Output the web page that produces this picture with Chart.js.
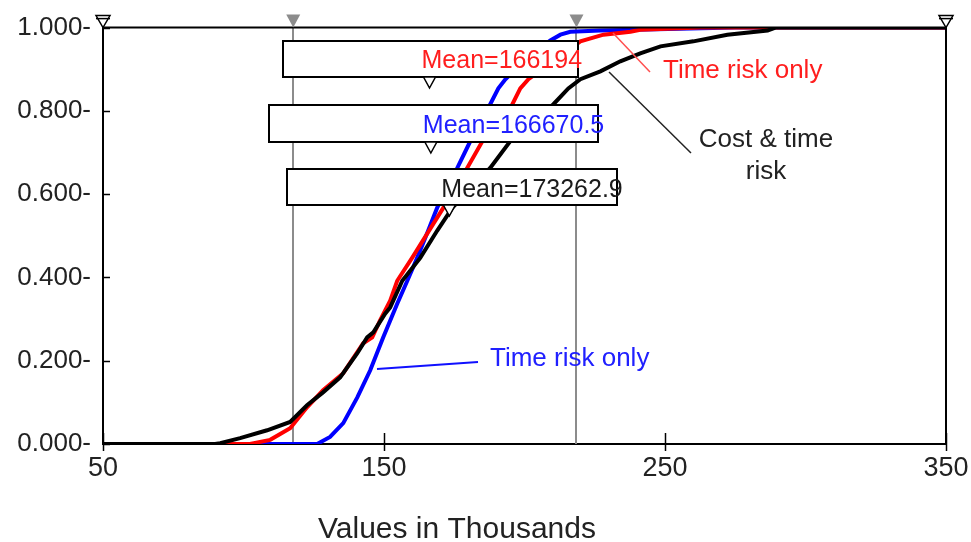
<!DOCTYPE html>
<html>
<head>
<meta charset="utf-8">
<script src="https://cdn.jsdelivr.net/npm/chart.js@4.4.1/dist/chart.umd.min.js"></script>
<style>
  html, body { margin: 0; padding: 0; background: #fff; }
  #wrap { width: 971px; height: 542px; }
</style>
</head>
<body>
<div id="wrap"><canvas id="cdfChart" width="971" height="542"></canvas></div>
<script>
"use strict";

// x in thousands, y = cumulative probability
const xTicks = [50, 150, 250, 350];
const yTicks = [0, 0.2, 0.4, 0.6, 0.8, 1.0];

const blueX = [50, 126.2, 130.8, 135.5, 140.5, 145.1, 149.7, 154.7, 158.3, 161.8, 165.7, 168.9, 176.1, 180.7, 187.8, 190.7, 193.2, 199.6, 209.2, 212.8, 216.3, 227.0, 275.1, 350];
const blueY = [0, 0, 0.017, 0.050, 0.112, 0.177, 0.256, 0.337, 0.392, 0.447, 0.512, 0.567, 0.663, 0.727, 0.816, 0.854, 0.876, 0.919, 0.969, 0.983, 0.990, 0.993, 1, 1];

const redX = [50, 102.3, 109.5, 116.6, 122.6, 128.3, 135.5, 142.6, 145.8, 148.6, 152.2, 154.7, 160.0, 171.1, 179.6, 185.0, 195.7, 198.5, 201.4, 219.9, 228.1, 237.7, 241.2, 262.6, 350];
const redY = [0, 0, 0.010, 0.038, 0.088, 0.129, 0.170, 0.242, 0.256, 0.297, 0.344, 0.392, 0.447, 0.567, 0.663, 0.727, 0.816, 0.854, 0.876, 0.967, 0.983, 0.990, 0.995, 1, 1];

const blackX = [50, 89.9, 91.7, 98.8, 108.4, 116.6, 122.6, 128.3, 134.4, 140.5, 144.0, 146.2, 150.4, 152.2, 156.5, 162.9, 168.9, 174.3, 187.8, 194.9, 210.3, 215.6, 219.9, 227.0, 234.1, 241.2, 248.4, 260.1, 272.2, 286.5, 289.3, 350];
const blackY = [0, 0, 0.002, 0.014, 0.033, 0.053, 0.093, 0.124, 0.160, 0.218, 0.256, 0.268, 0.313, 0.328, 0.392, 0.447, 0.512, 0.567, 0.663, 0.727, 0.816, 0.854, 0.876, 0.895, 0.919, 0.938, 0.955, 0.967, 0.983, 0.993, 1, 1];

const meanValues = [166194, 166670.5, 173262.9];   // red, blue, black
const meanColors = ['#ff1e1e', '#2020ff', '#1a1a1a'];
const percentileMarks = [117.7, 218.5];

const FONT = "'Liberation Sans', Arial, sans-serif";

function toPoints(xs, ys) {
    return xs.map((v, i) => ({x: v, y: ys[i]}));
}

function triangle(ctx, cx, top, half, h) {
    ctx.beginPath();
    ctx.moveTo(cx - half, top);
    ctx.lineTo(cx + half, top);
    ctx.lineTo(cx, top + h);
    ctx.closePath();
}

const decor = {
    id: 'decor',
    beforeDatasetsDraw(chart) {
        const {ctx, chartArea: a, scales: {x}} = chart;
        ctx.save();
        ctx.strokeStyle = '#8c8c8c';
        ctx.lineWidth = 2;
        percentileMarks.forEach(v => {
            const px = Math.round(x.getPixelForValue(v));
            ctx.beginPath();
            ctx.moveTo(px, a.top);
            ctx.lineTo(px, a.bottom);
            ctx.stroke();
        });
        ctx.restore();
    },
    afterDatasetsDraw(chart) {
        const {ctx, chartArea: a, scales: {x, y}} = chart;
        ctx.save();

        // frame top / right
        ctx.strokeStyle = '#000';
        ctx.lineWidth = 2;
        ctx.beginPath();
        ctx.moveTo(a.left, a.top);
        ctx.lineTo(a.right, a.top);
        ctx.lineTo(a.right, a.bottom);
        ctx.stroke();

        // tick marks
        ctx.lineWidth = 1.5;
        yTicks.forEach(v => {
            const py = Math.round(y.getPixelForValue(v)) + 0.5;
            ctx.beginPath();
            ctx.moveTo(a.left, py);
            ctx.lineTo(a.left + 7, py);
            ctx.stroke();
        });
        xTicks.forEach(v => {
            const px = Math.round(x.getPixelForValue(v)) + 0.5;
            ctx.beginPath();
            ctx.moveTo(px, a.bottom - 11);
            ctx.lineTo(px, a.bottom + 7);
            ctx.stroke();
        });

        // slider markers on the top edge
        percentileMarks.forEach(v => {
            const px = x.getPixelForValue(v);
            ctx.fillStyle = '#8c8c8c';
            triangle(ctx, px, a.top - 13, 7, 13);
            ctx.fill();
        });
        [xTicks[0], xTicks[xTicks.length - 1]].forEach(v => {
            const px = x.getPixelForValue(v);
            ctx.fillStyle = '#fff';
            ctx.strokeStyle = '#000';
            ctx.lineWidth = 1.5;
            triangle(ctx, px, a.top - 12, 7, 12);
            ctx.fill();
            ctx.stroke();
            ctx.beginPath();
            ctx.moveTo(px - 7, a.top - 9);
            ctx.lineTo(px + 7, a.top - 9);
            ctx.stroke();
        });

        // mean boxes
        const boxes = [
            {l: 283, t: 41, r: 578, b: 77, base: 68},
            {l: 269, t: 105, r: 598, b: 142, base: 133},
            {l: 287, t: 169, r: 617, b: 205, base: 197}
        ];
        ctx.font = '25px ' + FONT;
        ctx.textAlign = 'left';
        ctx.textBaseline = 'alphabetic';
        boxes.forEach((bx, i) => {
            ctx.fillStyle = '#fff';
            ctx.fillRect(bx.l, bx.t, bx.r - bx.l, bx.b - bx.t);
            ctx.strokeStyle = '#000';
            ctx.lineWidth = 2;
            ctx.strokeRect(bx.l, bx.t, bx.r - bx.l, bx.b - bx.t);
            const mx = x.getPixelForValue(meanValues[i] / 1000);
            ctx.fillStyle = meanColors[i];
            ctx.fillText('Mean=' + meanValues[i], mx - 8, bx.base);
            ctx.fillStyle = '#fff';
            ctx.strokeStyle = '#000';
            ctx.lineWidth = 1.5;
            triangle(ctx, mx, bx.b, 6, 11);
            ctx.fill();
            ctx.stroke();
        });

        // annotations
        ctx.font = '26px ' + FONT;
        ctx.lineWidth = 1.5;
        ctx.strokeStyle = '#ff5050';
        ctx.beginPath();
        ctx.moveTo(613, 33);
        ctx.lineTo(650, 72);
        ctx.stroke();
        ctx.fillStyle = '#ff1e1e';
        ctx.fillText('Time risk only', 663, 78);

        ctx.strokeStyle = '#222';
        ctx.beginPath();
        ctx.moveTo(609, 72);
        ctx.lineTo(691, 153);
        ctx.stroke();
        ctx.fillStyle = '#222';
        ctx.textAlign = 'center';
        ctx.fillText('Cost & time', 766, 147);
        ctx.fillText('risk', 766, 179);

        ctx.strokeStyle = '#1010ff';
        ctx.lineWidth = 2;
        ctx.beginPath();
        ctx.moveTo(377, 369);
        ctx.lineTo(478, 362);
        ctx.stroke();
        ctx.fillStyle = '#2020ff';
        ctx.textAlign = 'left';
        ctx.fillText('Time risk only', 490, 366);

        ctx.restore();
    },
    afterDraw(chart) {
        const {ctx} = chart;
        ctx.save();
        ctx.font = '30px ' + FONT;
        ctx.fillStyle = '#222';
        ctx.textAlign = 'center';
        ctx.textBaseline = 'alphabetic';
        ctx.fillText('Values in Thousands', 457, 538);
        ctx.restore();
    }
};

const lineStyle = {borderWidth: 4, pointRadius: 0, tension: 0, fill: false};

new Chart(document.getElementById('cdfChart'), {
    type: 'line',
    data: {
        datasets: [
            Object.assign({label: 'Cost & time risk', data: toPoints(blackX, blackY), borderColor: '#000', order: 0}, lineStyle),
            Object.assign({label: 'Time risk only (red)', data: toPoints(redX, redY), borderColor: '#ff0000', order: 1}, lineStyle),
            Object.assign({label: 'Time risk only (blue)', data: toPoints(blueX, blueY), borderColor: '#0000ff', order: 2}, lineStyle)
        ]
    },
    options: {
        responsive: false,
        animation: false,
        layout: {padding: {top: 23, right: 25, left: 0, bottom: 0}},
        plugins: {legend: {display: false}, tooltip: {enabled: false}},
        scales: {
            x: {
                type: 'linear',
                min: 50,
                max: 350,
                afterBuildTicks: s => { s.ticks = xTicks.map(v => ({value: v})); },
                afterFit: s => { s.height = 98; s.paddingLeft = 0; s.paddingRight = 0; },
                grid: {display: false, drawTicks: false},
                border: {display: true, color: '#000', width: 2},
                ticks: {color: '#222', padding: 8, font: {family: FONT, size: 27}, maxRotation: 0}
            },
            y: {
                type: 'linear',
                min: 0,
                max: 1,
                afterBuildTicks: s => { s.ticks = yTicks.map(v => ({value: v})); },
                afterFit: s => { s.width = 103; },
                grid: {display: false, drawTicks: false},
                border: {display: true, color: '#000', width: 2},
                ticks: {color: '#222', padding: 12, font: {family: FONT, size: 26},
                    callback: v => v.toFixed(3) + '-'}
            }
        }
    },
    plugins: [decor]
});
</script>
</body>
</html>
